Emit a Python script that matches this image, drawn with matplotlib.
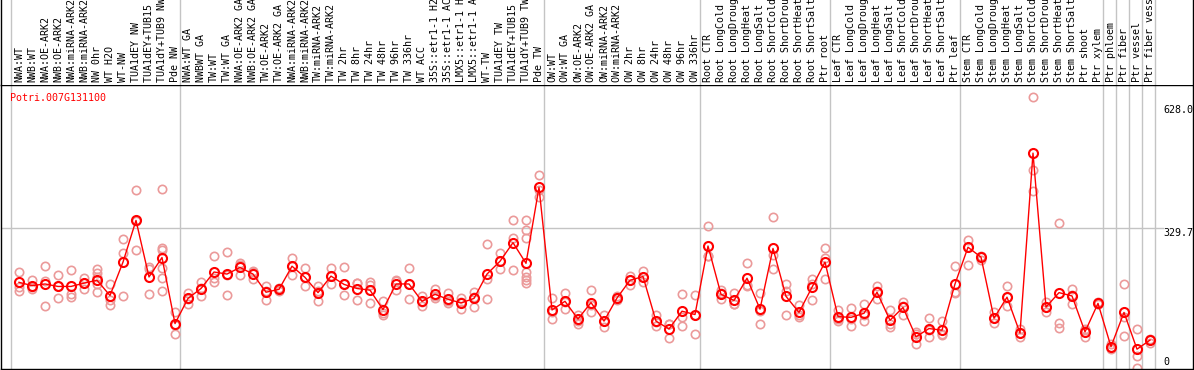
import matplotlib
matplotlib.use("Agg")
import matplotlib.pyplot as plt

# ── data ──────────────────────────────────────────────────────────────────────
GENE = "Potri.007G131100"

SAMPLES = [
    "NWA:WT", "NWB:WT", "NWA:OE-ARK2", "NWB:OE-ARK2", "NWA:miRNA-ARK2",
    "NWB:miRNA-ARK2", "NW 0hr", "WT H2O", "WT-NW", "TUA1dEY NW",
    "TUA1dEY+TUB15 NW", "TUA1dY+TUB9 NW", "Pde NW",
    "NWA:WT GA", "NWBWT GA", "TW:WT", "TW:WT GA", "NWA:OE-ARK2 GA",
    "NWB:OE-ARK2 GA", "TW:OE-ARK2", "TW:OE-ARK2 GA", "NWA:miRNA-ARK2",
    "NWB:miRNA-ARK2", "TW:miRNA-ARK2", "TW:miRNA-ARK2 GA", "TW 2hr", "TW 8hr",
    "TW 24hr", "TW 48hr", "TW 96hr", "TW 336hr", "WT ACC",
    "35S::etr1-1 H2O", "35S::etr1-1 ACC", "LMX5::etr1-1 H2O",
    "LMX5::etr1-1 ACC", "WT-TW", "TUA1dEY TW", "TUA1dEY+TUB15 TW",
    "TUA1dY+TUB9 TW", "Pde TW",
    "OW:WT", "OW:WT GA", "OW:OE-ARK2", "OW:OE-ARK2 GA", "OW:miRNA-ARK2",
    "OW:miRNA-ARK2 GA", "OW 2hr", "OW 8hr", "OW 24hr", "OW 48hr", "OW 96hr",
    "OW 336hr",
    "Root CTR", "Root LongCold", "Root LongDrought", "Root LongHeat",
    "Root LongSalt", "Root ShortCold", "Root ShortDrought", "Root ShortHeat",
    "Root ShortSalt", "Ptr root",
    "Leaf CTR", "Leaf LongCold", "Leaf LongDrought", "Leaf LongHeat",
    "Leaf LongSalt", "Leaf ShortCold", "Leaf ShortDrought", "Leaf ShortHeat",
    "Leaf ShortSalt", "Ptr leaf",
    "Stem CTR", "Stem LongCold", "Stem LongDrought", "Stem LongHeat",
    "Stem LongSalt", "Stem ShortCold", "Stem ShortDrought", "Stem ShortHeat",
    "Stem ShortSalt", "Ptr shoot", "Ptr xylem",
    "Ptr phloem", "Ptr fiber", "Ptr vessel", "Ptr fiber vessel",
]

MEANS = [
    198, 190, 194, 188, 188, 196, 203, 166, 247, 348, 211, 258, 98,
    159, 183, 223, 218, 234, 218, 174, 181, 237, 210, 173, 213, 193, 183,
    179, 132, 194, 194, 152, 169, 157, 148, 159, 218, 249, 294, 244, 428,
    131, 152, 109, 149, 104, 160, 203, 212, 104, 85, 128, 120,
    286, 169, 154, 208, 133, 280, 164, 125, 186, 247,
    115, 113, 123, 174, 106, 137, 66, 86, 82, 194,
    283, 259, 111, 162, 75, 511, 138, 173, 165, 78, 147,
    42, 125, 36, 58,
]

REPLICATES = [
    [222, 187, 177], [203, 181, 187], [237, 201, 140], [215, 159, 190],
    [229, 169, 163], [208, 183, 196], [231, 221, 211, 194, 174],
    [194, 155, 144], [303, 270, 166], [421, 347, 276], [230, 169, 234],
    [424, 282, 276, 232, 208, 178], [125, 74, 95],
    [173, 146, 158], [199, 166, 184], [261, 199, 209], [271, 167, 216],
    [245, 216, 241], [225, 206, 223], [189, 155, 178], [185, 178, 180],
    [257, 216, 238], [232, 188, 210], [189, 153, 177], [232, 193, 214],
    [235, 167, 193], [197, 155, 197], [199, 147, 191], [153, 119, 124],
    [203, 179, 200], [232, 157, 193], [165, 141, 150], [181, 160, 166],
    [171, 148, 152], [159, 134, 151], [175, 139, 163], [290, 157, 207],
    [268, 230, 249], [348, 229, 305], [348, 324, 306, 223, 211, 203, 197],
    [459, 404, 421],
    [159, 108, 126], [171, 134, 151], [119, 98, 104], [180, 125, 142],
    [119, 89, 104], [165, 155, 160], [214, 191, 204], [225, 199, 212],
    [119, 92, 101], [97, 62, 96], [169, 115, 93], [167, 74, 119],
    [334, 262, 262], [179, 157, 171], [171, 145, 146], [244, 189, 191],
    [173, 97, 129], [356, 264, 230], [194, 119, 177], [143, 113, 119],
    [205, 155, 195], [280, 207, 256],
    [131, 105, 109], [136, 93, 110], [145, 104, 120], [189, 157, 176],
    [132, 89, 97], [151, 119, 141], [78, 48, 72], [111, 65, 82],
    [104, 70, 72], [237, 171, 174],
    [300, 240, 283], [262, 251, 259], [125, 100, 111], [190, 140, 162],
    [85, 65, 75], [646, 419, 470], [150, 125, 138], [341, 100, 87],
    [182, 145, 168], [86, 66, 82], [150, 145, 146],
    [42, 36, 48], [194, 68, 113], [84, -10, 20], [58, 50, 60],
]

# first sample of every block separated by a grey rule (88 = right end)
GROUP_STARTS = [0, 13, 41, 53, 63, 73, 84, 85, 86, 87, 88]
Y_TICKS = [628.0, 329.7, 0]

# ── figure ────────────────────────────────────────────────────────────────────
W, H = 1194, 370
fig = plt.figure(figsize=(W / 100, H / 100), dpi=100)
FONT = dict(family="DejaVu Sans Mono", size=7.2)
GREY = "#c4c4c4"

top_px = 85
ax = fig.add_axes([1 / W, 1 - 369 / H, 1192 / W, (369 - top_px) / H])
lab = fig.add_axes([1 / W, 1 - top_px / H, 1192 / W, top_px / H], sharex=ax)

xmin, xmax = (1 - 19) / 13, (1193 - 19) / 13
ax.set_xlim(xmin, xmax)
ax.set_ylim(-12, 676)
lab.set_ylim(0, 1)

for a in (ax, lab):
    a.set_xticks([])
    a.set_yticks([])
    for s in a.spines.values():
        s.set_color("black")
        s.set_linewidth(1)
lab.spines["top"].set_visible(False)
lab.spines["bottom"].set_visible(False)

# grey separators, running through the label strip as well
for k in GROUP_STARTS:
    for a in (ax, lab):
        a.axvline(k - 0.6, color=GREY, lw=1, zorder=0)
ax.plot([xmin, 88.0], [Y_TICKS[1], Y_TICKS[1]], color=GREY, lw=1, zorder=0)

# sample labels (long ones run off the top, as in the original)
for i, name in enumerate(SAMPLES):
    lab.text(i, 0.03, name, rotation=90, ha="center", va="bottom",
             color="black", clip_on=True, **FONT)

# replicates
for i, reps in enumerate(REPLICATES):
    ax.plot([i] * len(reps), reps, "o", ms=6, mfc="none", mec="#eb9a9a",
            mew=1.2, zorder=2)

# means
x = list(range(len(MEANS)))
ax.plot(x, MEANS, "-", color="red", lw=1, zorder=3)
ax.plot(x, MEANS, "o", ms=6.5, mfc="none", mec="red", mew=1.5, zorder=4)

ax.text(-0.7, 656, GENE, color="red", ha="left", va="top", **FONT)

for v in Y_TICKS:
    if v:
        ax.text(88.05, v, f"{v:.1f}", ha="left", va="top", color="black", **FONT)
    else:
        ax.text(88.05, 6, "0", ha="left", va="center", color="black", **FONT)

fig.savefig("out.png", dpi=100)
